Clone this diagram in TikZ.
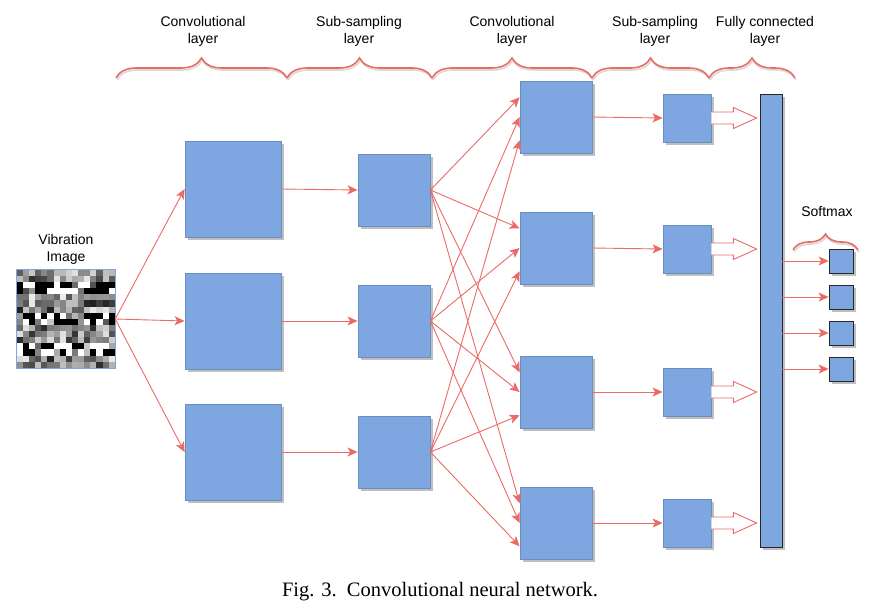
\documentclass[tikz,border=0pt]{standalone}
\usepackage{fontspec}
\setmainfont{Liberation Serif}
\setsansfont{Liberation Sans}
\usetikzlibrary{arrows.meta,shadows,decorations.pathreplacing,calc}
\definecolor{boxblue}{HTML}{7EA6E0}
\definecolor{boxline}{HTML}{6C8EBF}
\definecolor{linkred}{HTML}{EA6B66}

\begin{document}
\begin{tikzpicture}[x=1pt,y=-1pt,
	every node/.style={inner sep=0pt},
	fmap/.style={draw=boxline,fill=boxblue,line width=0.8pt,
		drop shadow={shadow xshift=3pt,shadow yshift=-3pt,fill=black!25,opacity=1}},
	conva/.style={fmap,minimum size=96pt},
	suba/.style={fmap,minimum size=72pt},
	convb/.style={fmap,minimum size=72pt},
	subb/.style={fmap,minimum size=48pt},
	outbox/.style={fmap,draw=black!85,minimum size=24pt},
	link/.style={draw=linkred,line width=0.9pt,-{Stealth[length=10pt,width=9pt,inset=2.5pt]}},
	lbl/.style={font=\sffamily\fontsize{14}{17}\selectfont,align=center},
	layerbrace/.style={decorate,decoration={brace,amplitude=#1},draw=linkred,line width=1.6pt},
	braceshade/.style={decorate,decoration={brace,amplitude=#1},draw=black!15,line width=1.6pt}]
	\useasboundingbox (0,0) rectangle (877,615);

	% input image
	\node[minimum size=98pt] (img) at (66,319) {};
	\pgfmathsetseed{11}
	\foreach \r in {0,...,15}
		\foreach \c in {0,...,15}{
			\pgfmathtruncatemacro\band{(\r==2)+(\r==3)+(\r==7)+(\r==8)+(\r==12)+(\r==13)}
			\pgfmathtruncatemacro\g{\band>0 ? (rnd<0.45 ? 100 : (rnd<0.5 ? 0 : 20+60*rnd)) : 8+80*rnd}
			\fill[black!\g] ($(img.north west)+(\c*6.125,\r*6.125)$) rectangle +(6.125,6.125);
		}
	\draw[boxblue,line width=1pt] (img.north west) rectangle (img.south east);
	\node[lbl] (imglbl) at (66,249) {Vibration\\Image};

	% feature maps
	\node[conva] (c1a) at (233,189) {};
	\node[conva] (c1b) at (233,321) {};
	\node[conva] (c1c) at (233,452) {};
	\node[suba] (s1a) at (394,190) {};
	\node[suba] (s1b) at (394,321) {};
	\node[suba] (s1c) at (394,452) {};
	\node[convb] (c2a) at (556,117) {};
	\node[convb] (c2b) at (556,248) {};
	\node[convb] (c2c) at (556,392) {};
	\node[convb] (c2d) at (556,523) {};
	\node[subb] (s2a) at (687,118) {};
	\node[subb] (s2b) at (687,249) {};
	\node[subb] (s2c) at (687,392) {};
	\node[subb] (s2d) at (687,523) {};
	\node[fmap,draw=black!85,minimum width=22pt,minimum height=453pt] (fc) at (771,320.5) {};
	\node[outbox] (sm1) at (841,261) {};
	\node[outbox] (sm2) at (841,297) {};
	\node[outbox] (sm3) at (841,333) {};
	\node[outbox] (sm4) at (841,369) {};

	% connections
	\foreach \i in {a,b,c}{
		\draw[link] (img.east) -- (c1\i.west);
		\draw[link] (c1\i.east) -- (s1\i.west);
	}
	\foreach \i/\f in {a/0.23,b/0.5,c/0.82}
		\foreach \j in {a,b,c,d}
			\draw[link] (s1\i.east) -- ($(c2\j.north west)!\f!(c2\j.south west)$);
	\foreach \j in {a,b,c,d}{
		\draw[link] (c2\j.east) -- (s2\j.west);
		\draw[linkred,fill=white,line width=0.9pt] ($(s2\j.east)+(0,-6)$) -- ++(22,0) -- ++(0,-4.5)
			-- ($(fc.west |- s2\j.east)+(-3,0)$) -- ($(s2\j.east)+(22,10.5)$) -- ++(0,-4.5) -- ($(s2\j.east)+(0,6)$);
	}
	\foreach \k in {1,...,4}
		\draw[link] (fc.east |- sm\k.west) -- (sm\k.west);

	% braces and layer names
	\foreach \a/\b in {116/287,287/432,432/592,592/709,709/795}{
		\draw[braceshade=20pt] (\a+1,80) -- (\b+1,80);
		\draw[layerbrace=20pt] (\a,78) -- (\b,78);
	}
	\draw[braceshade=16pt] (794,252) -- (859,252);
	\draw[layerbrace=16pt] (793,250) -- (858,250);
	\node[lbl] (l1) at (203,31) {Convolutional\\layer};
	\node[lbl] (l2) at (359,31) {Sub-sampling\\layer};
	\node[lbl] (l3) at (512,31) {Convolutional\\layer};
	\node[lbl] (l4) at (655,31) {Sub-sampling\\layer};
	\node[lbl] (l5) at (765,31) {Fully connected\\layer};
	\node[lbl] (l6) at (827,212) {Softmax};

	\node[font=\fontsize{20.5}{24}\selectfont] (cap) at (440,592) {Fig. 3.\enspace Convolutional neural network.};
\end{tikzpicture}
\end{document}
